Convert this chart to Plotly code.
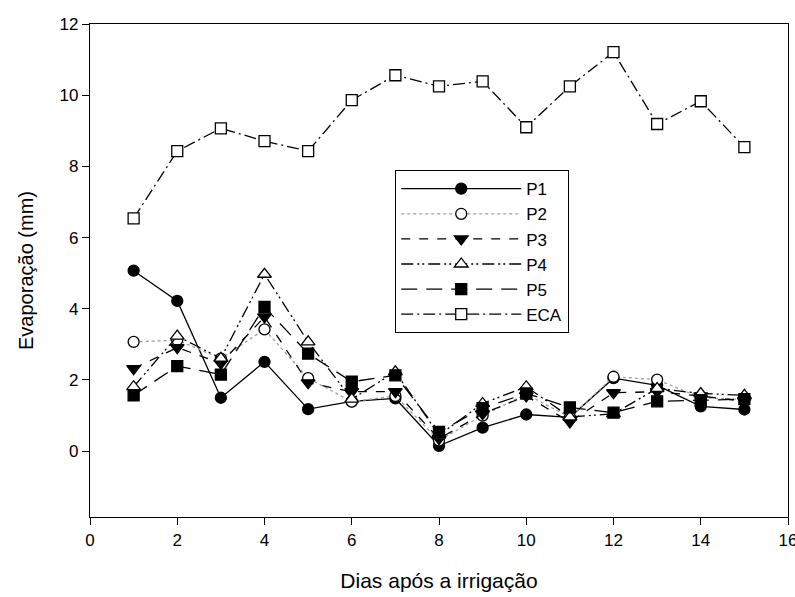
import plotly.graph_objects as go

dias = list(range(1, 16))
P1 = [5.07, 4.22, 1.50, 2.51, 1.18, 1.40, 1.48, 0.15, 0.66, 1.03, 0.95, 2.05, 1.85, 1.26, 1.17]
P2 = [3.07, 3.12, 2.60, 3.42, 2.05, 1.39, 1.55, 0.30, 1.00, 1.60, 0.95, 2.09, 2.01, 1.50, 1.45]
P3 = [2.32, 2.91, 2.47, 3.77, 1.92, 1.67, 1.67, 0.35, 1.05, 1.55, 0.82, 1.64, 1.67, 1.55, 1.40]
P4 = [1.81, 3.23, 2.61, 4.97, 3.07, 1.46, 2.23, 0.45, 1.34, 1.81, 0.96, 1.05, 1.76, 1.62, 1.57]
P5 = [1.57, 2.39, 2.15, 4.05, 2.74, 1.95, 2.13, 0.54, 1.21, 1.62, 1.23, 1.08, 1.40, 1.43, 1.46]
ECA = [6.54, 8.43, 9.07, 8.71, 8.43, 9.86, 10.56, 10.25, 10.39, 9.10, 10.25, 11.21, 9.19, 9.83, 8.54]

x_ticks = [0, 2, 4, 6, 8, 10, 12, 14, 16]
y_ticks = [0, 2, 4, 6, 8, 10, 12]

series = [
    ("P1", P1, "circle", "black", "solid", "black"),
    ("P2", P2, "circle", "white", "dot", "#a0a0a0"),
    ("P3", P3, "triangle-down", "black", "dash", "black"),
    ("P4", P4, "triangle-up", "white", "12px,4px,2px,3px,2px,4px", "black"),
    ("P5", P5, "square", "black", "16px,9px", "black"),
    ("ECA", ECA, "square", "white", "12px,4px,2px,4px", "black"),
]

fig = go.Figure()
for name, vals, sym, fill, dash, lcolor in series:
    fig.add_trace(go.Scatter(
        x=dias, y=vals, name=name, mode="lines+markers",
        legendgroup=name,
        line=dict(color=lcolor, width=1.3, dash=dash),
        marker=dict(symbol=sym, size=12 if "triangle" in sym else 11,
                    color=fill, line=dict(color="black", width=1.3)),
    ))

fig.update_layout(
    width=795, height=597,
    margin=dict(l=90, r=7, t=24, b=80, autoexpand=False),
    paper_bgcolor="white", plot_bgcolor="white",
    font=dict(family="Liberation Sans, Arial, sans-serif", color="black", size=17),
    showlegend=True,
    legend=dict(
        x=0.437, y=0.704, xanchor="left", yanchor="top",
        bordercolor="black", borderwidth=1.2, bgcolor="white",
        font=dict(size=17), tracegroupgap=2, traceorder="normal",
        itemwidth=120,
    ),
)
fig.update_xaxes(
    range=[0, 16], tickvals=x_ticks, ticks="outside", ticklen=7, tickcolor="black",
    showline=True, linecolor="black", linewidth=1.2, mirror=True, showgrid=False,
    zeroline=False, ticklabeloverflow="allow", automargin=False,
    title=dict(text="Dias após a irrigação", font=dict(size=21), standoff=24),
    tickfont=dict(size=17),
)
fig.update_yaxes(
    range=[-1.85, 12], tickvals=y_ticks, ticks="outside", ticklen=7, tickcolor="black",
    showline=True, linecolor="black", linewidth=1.2, mirror=True, showgrid=False,
    zeroline=False, automargin=False,
    title=dict(text="Evaporação (mm)", font=dict(size=20), standoff=20),
    tickfont=dict(size=17),
)

fig.write_html("out.html")
